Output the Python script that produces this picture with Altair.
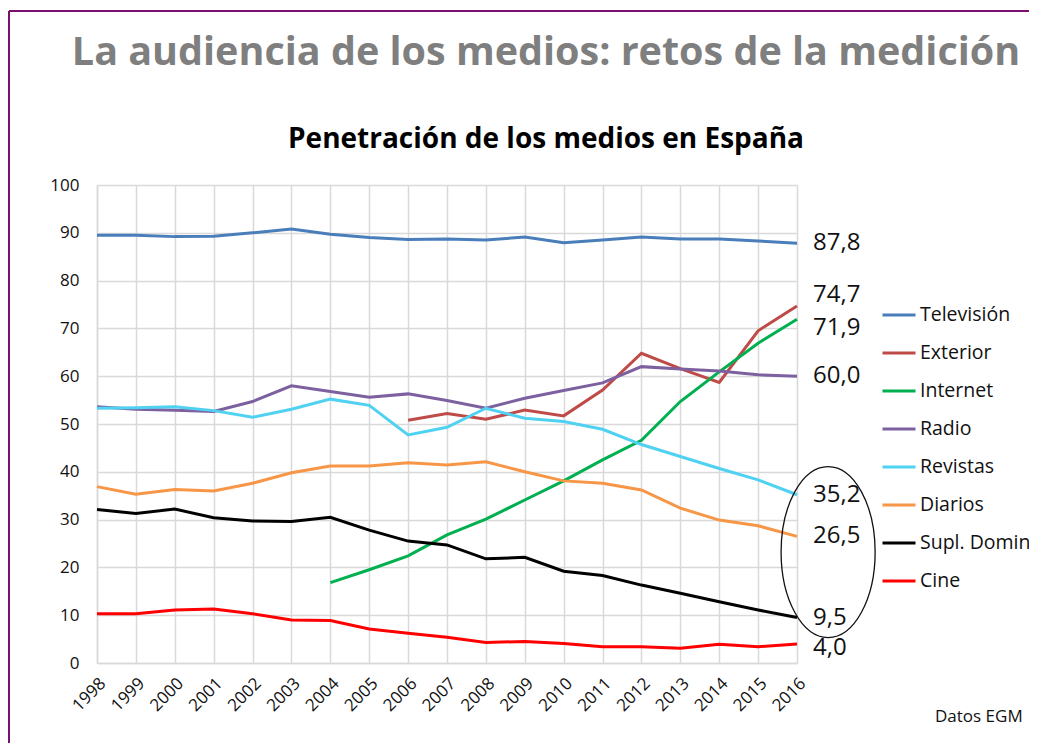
import altair as alt
import pandas as pd

years = list(range(1998, 2017))
series_names = ["Televisión", "Exterior", "Internet", "Radio", "Revistas",
                "Diarios", "Supl. Domin", "Cine"]
television = [89.5, 89.5, 89.2, 89.3, 90.0, 90.8, 89.7, 89.0, 88.6, 88.7,
              88.5, 89.1, 87.9, 88.5, 89.1, 88.7, 88.7, 88.3, 87.8]
exterior = [None] * 8 + [50.8, 52.2, 51.0, 52.9, 51.7, 57.1, 64.8, 61.6,
                         58.7, 69.5, 74.7]
internet = [None] * 6 + [16.8, 19.5, 22.4, 26.8, 30.1, 34.1, 38.1, 42.5,
                         46.6, 54.7, 60.9, 66.9, 71.9]
radio = [53.6, 53.1, 52.9, 52.6, 54.7, 58.0, 56.8, 55.6, 56.3, 54.9,
         53.3, 55.4, 57.0, 58.6, 62.0, 61.5, 61.1, 60.3, 60.0]
revistas = [53.3, 53.4, 53.6, 52.8, 51.4, 53.1, 55.2, 53.9, 47.7, 49.3,
            53.3, 51.2, 50.5, 48.9, 45.7, 43.2, 40.7, 38.3, 35.2]
diarios = [36.9, 35.3, 36.3, 36.0, 37.6, 39.8, 41.2, 41.2, 41.9, 41.4,
           42.1, 40.0, 38.1, 37.6, 36.2, 32.4, 29.9, 28.7, 26.5]
supl_domin = [32.1, 31.3, 32.2, 30.4, 29.7, 29.6, 30.5, 27.8, 25.5, 24.7,
              21.8, 22.1, 19.2, 18.3, 16.3, 14.6, 12.8, 11.1, 9.5]
cine = [10.3, 10.3, 11.1, 11.3, 10.3, 9.0, 8.9, 7.1, 6.2, 5.4,
        4.3, 4.5, 4.1, 3.4, 3.4, 3.1, 3.9, 3.4, 4.0]
y_ticks = list(range(0, 101, 10))

main_title = "La audiencia de los medios: retos de la medición"
chart_title = "Penetración de los medios en España"
source_note = "Datos EGM"

series_values = [television, exterior, internet, radio, revistas,
                 diarios, supl_domin, cine]
colors = ["#4a7ebb", "#be4b48", "#00b050", "#7d60a0", "#4fd1f2",
          "#f79646", "#000000", "#ff0000"]
widths = [3, 3, 4.5, 3, 3, 3, 3.5, 3.5]

rows = []
for name, vals in zip(series_names, series_values):
    for yr, v in zip(years, vals):
        if v is not None:
            rows.append({"year": yr, "value": v, "medio": name})
df = pd.DataFrame(rows)

last = df[df["year"] == years[-1]].copy()
last["label"] = last["value"].map(lambda v: f"{v:.1f}".replace(".", ","))

FONT = "Open Sans"

x_scale = alt.Scale(domain=[1998, 2016], nice=False, zero=False)
y_scale = alt.Scale(domain=[0, 100], nice=False)

x_axis = alt.Axis(values=years, tickCount=19, format="d", title=None,
                  labelAngle=-45, labelFontSize=17, labelFont=FONT,
                  labelColor="#111", labelPadding=12,
                  labelOverlap=False, labelSeparation=0, ticks=False,
                  grid=True, gridColor="#d9d9d9", gridWidth=1.5,
                  domainColor="#d9d9d9", domainWidth=1.5)
y_axis = alt.Axis(values=y_ticks, title=None, labelFontSize=17,
                  labelFont=FONT, labelColor="#111", labelPadding=18,
                  ticks=False, grid=True, gridColor="#d9d9d9",
                  gridWidth=1.5, domainColor="#d9d9d9", domainWidth=1.5)
x_enc = alt.X("year:Q", scale=x_scale, axis=x_axis)
y_enc = alt.Y("value:Q", scale=y_scale, axis=y_axis)

lines = alt.Chart(df).mark_line().encode(
    x=x_enc,
    y=y_enc,
    color=alt.Color("medio:N", sort=series_names,
                    scale=alt.Scale(domain=series_names, range=colors),
                    legend=alt.Legend(title=None, orient="none", legendX=784,
                                      legendY=112, symbolType="stroke",
                                      symbolSize=1089, symbolStrokeWidth=3,
                                      labelFontSize=19.5, labelFont=FONT,
                                      labelColor="#111", rowPadding=10,
                                      labelOffset=3, padding=0,
                                      labelLimit=0)),
    strokeWidth=alt.StrokeWidth("medio:N",
                                scale=alt.Scale(domain=series_names, range=widths),
                                legend=None),
    detail="medio:N",
)

label_dy = {"Exterior": -11, "Internet": 9, "Cine": 4}
label_layers = []
plain = [n for n in series_names if n not in label_dy]
label_layers.append(
    alt.Chart(last[last["medio"].isin(plain)]).mark_text(
        align="left", baseline="middle", dx=16, fontSize=24, font=FONT,
        color="#111").encode(x=x_enc, y=y_enc, text="label:N"))
for name, dy in label_dy.items():
    label_layers.append(
        alt.Chart(last[last["medio"] == name]).mark_text(
            align="left", baseline="middle", dx=16, dy=dy, fontSize=24,
            font=FONT, color="#111").encode(x=x_enc, y=y_enc, text="label:N"))

ellipse_pos = pd.DataFrame({"year": [2016.8], "value": [23.2]})
ellipse = alt.Chart(ellipse_pos).mark_point(
    shape="M -0.55 0 A 0.55 1 0 1 1 0.55 0 A 0.55 1 0 1 1 -0.55 0 Z",
    filled=False, stroke="#111", strokeWidth=1.3, opacity=1, size=29241,
).encode(x=x_enc, y=y_enc)

titles = alt.Chart(pd.DataFrame({"t": [main_title]})).mark_text(
    align="center", baseline="alphabetic", fontSize=39.5, fontWeight="bold",
    font=FONT, color="#7f7f7f"
).encode(x=alt.value(449), y=alt.value(-120), text="t:N")

subtitle = alt.Chart(pd.DataFrame({"t": [chart_title]})).mark_text(
    align="center", baseline="alphabetic", fontSize=28, fontWeight="bold",
    font=FONT, color="#000000"
).encode(x=alt.value(449), y=alt.value(-37), text="t:N")

datos = alt.Chart(pd.DataFrame({"t": [source_note]})).mark_text(
    align="left", baseline="middle", fontSize=17, font=FONT, color="#111"
).encode(x=alt.value(838), y=alt.value(532), text="t:N")

frame_left = alt.Chart(pd.DataFrame({"a": [0]})).mark_rule(
    color="#7b0f70", strokeWidth=2).encode(
    x=alt.value(-88), y=alt.value(-174), y2=alt.value(560))
frame_top = alt.Chart(pd.DataFrame({"a": [0]})).mark_rule(
    color="#7b0f70", strokeWidth=2).encode(
    x=alt.value(-88), x2=alt.value(940), y=alt.value(-174))

chart = alt.layer(lines, *label_layers, ellipse, titles, subtitle, datos,
                  frame_left, frame_top).properties(
    width=700, height=478,
    autosize=alt.AutoSizeParams(type="none"),
    padding={"left": 89, "top": 177, "right": 232, "bottom": 80},
).configure_view(stroke=None)

chart.save("out.html", embed_options={"renderer": "svg", "actions": False})
